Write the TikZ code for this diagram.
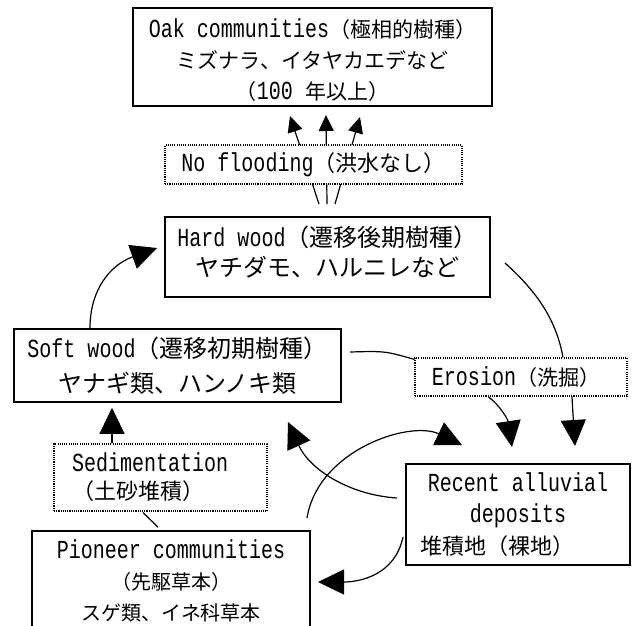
\documentclass[tikz,border=0pt]{standalone}
\usepackage{fontspec}
\setmainfont{Noto Sans CJK JP}
\newfontfamily\latmono[FakeStretch=0.77]{Liberation Mono}
\usetikzlibrary{arrows.meta}
\newcommand\lt[1]{{\latmono\fontsize{26}{30}\selectfont #1}}
\begin{document}
\begin{tikzpicture}[x=1pt,y=-1pt,
  box/.style={draw, line width=1.6pt, fill=white, inner sep=0pt, align=center},
  dbox/.style={draw, line width=1.1pt, dash pattern=on 1.1pt off 1.1pt, fill=white, inner sep=0pt, align=center},
  conn/.style={line width=1.2pt},
  big/.style={-{Triangle[length=26pt,width=25pt]}},
  small/.style={-{Triangle[length=16pt,width=15pt]}}]
\useasboundingbox (0,0) rectangle (635,625);
\clip (0,0) rectangle (635,625);
\fill[white] (0,0) rectangle (635,625);

% boxes
\node[box, minimum width=359pt, minimum height=98pt, font=\fontsize{21}{31}\selectfont] (oak) at (312.5,57)
  {\rule{0pt}{26pt}\lt{Oak communities}（極相的樹種）\\ミズナラ、イタヤカエデなど\\（\lt{100 }年以上）};
\node[box, minimum width=325pt, minimum height=80pt, font=\fontsize{24}{30}\selectfont] (hard) at (327.5,257)
  {\lt{Hard wood}（遷移後期樹種）\\ヤチダモ、ハルニレなど\rule[-11pt]{0pt}{11pt}};

% arrows from hard wood to oak (partly hidden by the no-flooding box)
\coordinate (hwL) at (319,204);
\coordinate (hwM) at (327,204);
\coordinate (hwR) at (335,204);
\coordinate (oakL) at (290,116);
\coordinate (oakM) at (326,115);
\coordinate (oakR) at (360,117);
\draw[conn,small] (hwL) -- (oakL);
\draw[conn,small] (hwM) -- (oakM);
\draw[conn,small] (hwR) -- (oakR);

\node[dbox, minimum width=297pt, minimum height=39pt, font=\fontsize{22}{30}\selectfont] (noflood) at (313.5,164.5)
  {\lt{No flooding}（洪水なし）};

\node[box, minimum width=327pt, minimum height=73pt, font=\fontsize{24}{35}\selectfont] (soft) at (177.5,365.5)
  {\lt{Soft wood}（遷移初期樹種）\\ヤナギ類、ハンノキ類};
\node[dbox, minimum width=212pt, minimum height=38pt, font=\fontsize{21}{30}\selectfont] (ero) at (521,377)
  {\lt{Erosion}（洗掘）\hspace*{10pt}};
\node[dbox, minimum width=213pt, minimum height=67pt, text width=177pt, align=left, font=\fontsize{22}{28}\selectfont] (sed) at (160.5,477.5)
  {\lt{Sedimentation}\\（土砂堆積）};
\node[box, minimum width=224pt, minimum height=101pt, font=\fontsize{22}{31.5}\selectfont] (allu) at (518,514.5)
  {\lt{Recent alluvial}\\\lt{deposits}\\\makebox[196pt][l]{堆積地（裸地）}};
\node[box, minimum width=278pt, minimum height=106pt, font=\fontsize{20}{31}\selectfont] (pio) at (171,584)
  {\lt{Pioneer communities}\\（先駆草本）\\スゲ類、イネ科草本\rule[-8pt]{0pt}{8pt}};

% connectors
\coordinate (s1) at (90,328);
\coordinate (h1) at (157,248);
\draw[conn,big] (s1) .. controls (90,290) and (110,265) .. (h1);

\coordinate (h2) at (505,263);
\draw[conn] (h2) .. controls (535,290) and (556,318) .. ([xshift=42pt]ero.north);
\coordinate (a2) at (575,446);
\draw[conn,big] ([xshift=51pt]ero.south) .. controls (573,415) .. (a2);

\coordinate (s2) at (350,352);
\draw[conn] (s2) .. controls (385,351) .. ([yshift=-2pt]ero.north west);
\coordinate (a1) at (512,447);
\draw[conn,big] ([xshift=-33pt]ero.south) .. controls (500,405) and (508,420) .. (a1);

\draw[conn,big] ([xshift=-48.5pt]sed.north) -- ([xshift=-65.5pt,yshift=-5pt]soft.south);
\draw[conn] ([xshift=-13pt,yshift=3pt]pio.north) -- ([xshift=-17.5pt,yshift=-1pt]sed.south);

\coordinate (r1) at (397,498);
\coordinate (s3) at (288,422);
\draw[conn,big] (r1) .. controls (350,495) and (310,470) .. (s3);

\coordinate (p1) at (307,518);
\coordinate (r2) at (462,445);
\draw[conn,big] (p1) .. controls (318,450) and (410,420) .. (r2);

\coordinate (r3) at (403,537);
\coordinate (p2) at (318,582);
\draw[conn,big] (r3) .. controls (395,575) and (360,582) .. (p2);
\end{tikzpicture}
\end{document}
